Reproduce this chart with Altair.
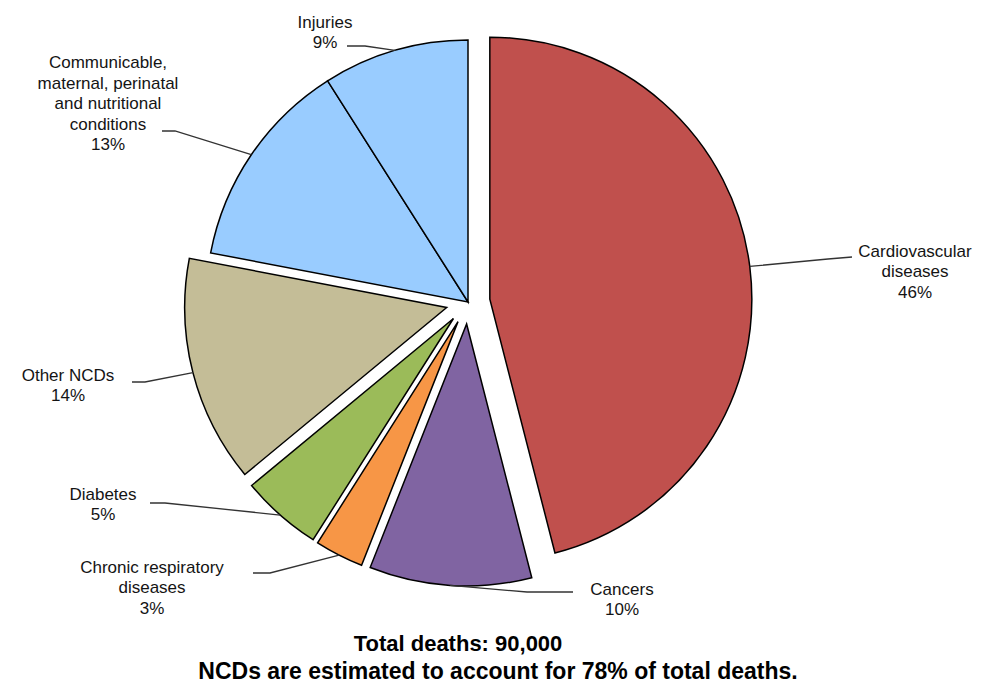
import math
import altair as alt
import pandas as pd

# ---- data ----
categories = [
    "Cardiovascular diseases",
    "Cancers",
    "Chronic respiratory diseases",
    "Diabetes",
    "Other NCDs",
    "Communicable, maternal, perinatal and nutritional conditions",
    "Injuries",
]
label_names = [
    "Cardiovascular\ndiseases",
    "Cancers",
    "Chronic respiratory\ndiseases",
    "Diabetes",
    "Other NCDs",
    "Communicable,\nmaternal, perinatal\nand nutritional\nconditions",
    "Injuries",
]
values = [46, 10, 3, 5, 14, 13, 9]
title_lines = [
    "Total deaths: 90,000",
    "NCDs are estimated to account for 78% of total deaths.",
]

# ---- style / layout ----
colors = ["#C0504D", "#8064A2", "#F79646", "#9BBB59", "#C4BD97", "#99CCFF", "#99CCFF"]
explode = [22, 22, 22, 22, 22, 0, 0]
CX, CY, R = 460, 294, 262
LH = 20.5
label_pos = [(447, -30), (154, 298), (-316, 286), (-365, 203), (-400, 84), (-360, -198), (-143, -269)]
leader_end = [(384, -45), (105, 290), (-215, 271), (-318, 201), (-336, 80), (-306, -171), (-121, -256)]
leader_elbow = [(360, -43), (59, 290), (-198, 271), (-303, 201), (-323, 80), (-293, -171), (-103, -256)]
title_pos = [(450, 643, 22), (490, 671, 23)]
FONT = "Liberation Sans"

total = sum(values)
df = pd.DataFrame({
    "cat": categories,
    "value": values,
    "order": list(range(len(values))),
    "explode": explode,
})

arc = (
    alt.Chart(df)
    .transform_window(s1="sum(value)", sort=[alt.SortField("order")], frame=[None, 0])
    .transform_calculate(
        s0="datum.s1 - datum.value",
        mid=f"(datum.s1 - datum.value/2) / {total} * 2 * PI",
    )
    .transform_calculate(
        px=f"{CX} + datum.explode * sin(datum.mid)",
        py=f"{CY} - datum.explode * cos(datum.mid)",
    )
    .mark_arc(outerRadius=R, stroke="black", strokeWidth=1.5)
    .encode(
        theta=alt.Theta("s0:Q", scale=alt.Scale(domain=[0, total], range=[0, 2 * math.pi])),
        theta2="s1:Q",
        x=alt.X("px:Q", scale=None, axis=None),
        y=alt.Y("py:Q", scale=None, axis=None),
        color=alt.Color("cat:N", scale=alt.Scale(domain=categories, range=colors), legend=None),
        order=alt.Order("order:Q"),
    )
)

# leader lines: slice edge (mid angle) -> elbow -> end near label
rows = []
cum = 0
for i, v in enumerate(values):
    mid = (cum + v / 2) / total * 2 * math.pi
    cum += v
    ex = CX + explode[i] * math.sin(mid)
    ey = CY - explode[i] * math.cos(mid)
    p0 = (ex + R * math.sin(mid), ey - R * math.cos(mid))
    p1 = (CX + leader_elbow[i][0], CY + leader_elbow[i][1])
    p2 = (CX + leader_end[i][0], CY + leader_end[i][1])
    for k, p in enumerate([p0, p1, p2]):
        rows.append({"cat": categories[i], "pt": k, "lx": p[0], "ly": p[1]})
lead_df = pd.DataFrame(rows)

leaders = (
    alt.Chart(lead_df)
    .mark_line(color="#333333", strokeWidth=1.3)
    .encode(
        x=alt.X("lx:Q", scale=None, axis=None),
        y=alt.Y("ly:Q", scale=None, axis=None),
        detail="cat:N",
        order="pt:Q",
    )
)

label_texts = [f"{n}\n{v}%" for n, v in zip(label_names, values)]
lab_df = pd.DataFrame({
    "cat": categories,
    "label": label_texts,
    "tx": [CX + p[0] for p in label_pos],
    "ty": [CY + p[1] - (t.count("\n")) * LH / 2 for p, t in zip(label_pos, label_texts)],
})
labels = (
    alt.Chart(lab_df)
    .mark_text(lineBreak="\n", fontSize=17, font=FONT, align="center",
               baseline="middle", lineHeight=LH, color="#141414")
    .encode(
        x=alt.X("tx:Q", scale=None, axis=None),
        y=alt.Y("ty:Q", scale=None, axis=None),
        text="label:N",
    )
)

t_df = pd.DataFrame({
    "t": title_lines,
    "tx": [p[0] for p in title_pos],
    "ty": [p[1] for p in title_pos],
    "fs": [p[2] for p in title_pos],
})
titles = (
    alt.Chart(t_df)
    .mark_text(font=FONT, fontWeight="bold", align="center",
               baseline="alphabetic", color="black")
    .encode(
        x=alt.X("tx:Q", scale=None, axis=None),
        y=alt.Y("ty:Q", scale=None, axis=None),
        size=alt.Size("fs:Q", scale=None, legend=None),
        text="t:N",
    )
)

chart = (
    alt.layer(arc, leaders, labels, titles)
    .properties(width=989, height=676, autosize=alt.AutoSizeParams(type="none"), padding=0,
                background="white")
    .configure_view(stroke=None)
)

chart.save("out.html", embed_options={"renderer": "svg", "actions": False})
